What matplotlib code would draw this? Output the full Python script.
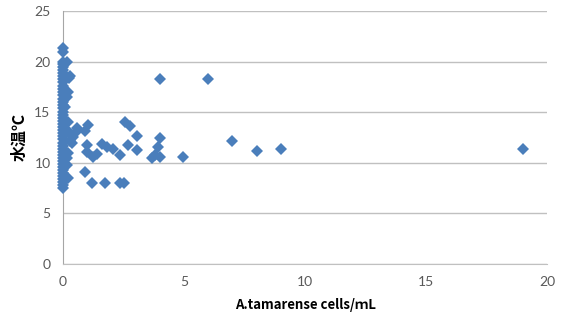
import matplotlib
matplotlib.use('Agg')
import matplotlib.pyplot as plt

# A.tamarense cells/mL vs water temperature
cells = [0] * 44 + [
    0.15, 0.3, 0.25, 0.2, 0.15, 0.1, 0.2, 0.25, 0.3, 0.35, 0.4, 0.2, 0.15, 0.2, 0.1, 0.15,
    0.56, 0.56, 0.91, 1.05, 0.98, 0.98, 1.25, 1.39, 1.6, 1.8, 2.08, 2.36,
    0.91, 1.18, 1.74, 2.36, 2.5,
    2.56, 2.77, 3.04, 2.7, 3.04,
    4.0, 3.94, 3.8, 3.66, 4.0, 4.97,
    4.0, 6.0, 6.97, 8.0, 9.0, 19.0,
]
temp = [
    21.3, 21.0, 20.0, 19.8, 19.5, 19.2, 18.9, 18.6, 18.3, 18.0, 17.6, 17.3, 17.0, 16.7,
    16.3, 16.0, 15.7, 15.4, 15.0, 14.7, 14.4, 14.1, 13.8, 13.5, 13.2, 12.9, 12.6, 12.3,
    12.0, 11.7, 11.4, 11.1, 10.8, 10.5, 10.2, 9.9, 9.6, 9.3, 9.0, 8.7, 8.4, 8.1, 7.8, 7.5,
    20.0, 18.6, 18.4, 17.0, 16.5, 15.5, 14.0, 13.0, 12.2, 12.0, 12.5, 11.0, 9.8, 8.5, 12.8, 10.5,
    13.4, 13.1, 13.1, 13.7, 11.76, 11.1, 10.6, 10.9, 11.9, 11.6, 11.4, 10.8,
    9.1, 8.0, 8.0, 8.0, 8.0,
    14.06, 13.6, 12.6, 11.76, 11.26,
    12.4, 11.6, 10.8, 10.5, 10.6, 10.6,
    18.25, 18.25, 12.2, 11.2, 11.4, 11.36,
]
xticks = [0, 5, 10, 15, 20]
yticks = [0, 5, 10, 15, 20, 25]

fig = plt.figure(figsize=(5.63, 3.25), dpi=100)
ax = fig.add_axes([0.112, 0.188, 0.86, 0.778])

ax.plot(cells, temp, 'D', color='#4A7EBB', markersize=6.6, markeredgewidth=0,
        zorder=3, clip_on=False)

ax.set_xlim(0, 20)
ax.set_ylim(0, 25)
ax.set_xticks(xticks)
ax.set_yticks(yticks)
ax.grid(axis='y', color='#C0C0C0', linewidth=1.0)
ax.set_axisbelow(True)
for s in ['top', 'right']:
    ax.spines[s].set_visible(False)
ax.spines['left'].set_color('#A6A6A6')
ax.spines['bottom'].set_color('#C0C0C0')
ax.tick_params(length=0, labelsize=10, labelcolor='#595959', pad=9)
for lab in ax.get_xticklabels() + ax.get_yticklabels():
    lab.set_family('Lato')

ax.set_xlabel('A.tamarense cells/ｍL', family=['Noto Sans CJK JP', 'DejaVu Sans'],
              fontsize=9.5, fontweight='bold', labelpad=7)
ax.set_ylabel('水温℃', family=['Noto Sans CJK JP', 'DejaVu Sans'],
              fontsize=11.5, fontweight='bold', labelpad=5)

fig.savefig('out.png', dpi=100)
